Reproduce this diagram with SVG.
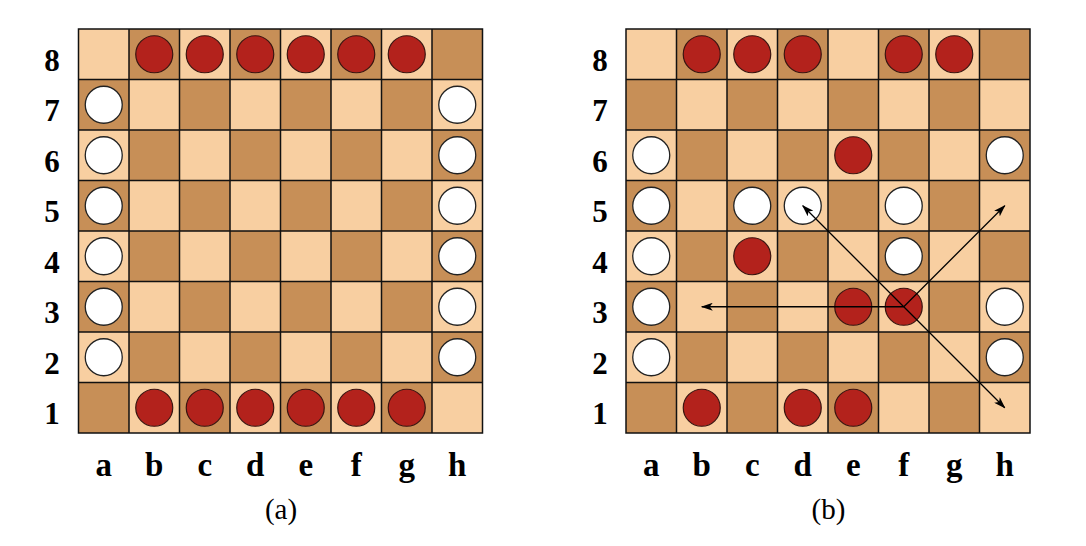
<svg xmlns="http://www.w3.org/2000/svg" xmlns:xlink="http://www.w3.org/1999/xlink" width="1086" height="546" viewBox="0 0 1086 546">
<style>
.lt{fill:#f8cfa1}
.dk{fill:#c78f57}
.grid{fill:none;stroke:#111;stroke-width:1.5}
.r{fill:#b3221c;stroke:#3a1410;stroke-width:1.2}
.w{fill:#fff;stroke:#222;stroke-width:1.3}
.rank{font-family:"Liberation Serif",serif;font-weight:bold;font-size:31px;text-anchor:middle;fill:#000}
.file{font-family:"Liberation Serif",serif;font-weight:bold;font-size:33px;text-anchor:middle;fill:#000}
.cap{font-family:"Liberation Serif",serif;font-size:29px;text-anchor:middle;fill:#000}
.arr{fill:none;stroke:#000;stroke-width:1.3;marker-end:url(#ah)}
</style>
<defs>
<marker id="ah" viewBox="0 0 12 8" refX="11" refY="4" markerWidth="12" markerHeight="8" markerUnits="userSpaceOnUse" orient="auto">
<path d="M0,0 L12,4 L0,8 L3,4 Z" fill="#000"/>
</marker>
<g id="board">
<rect class="lt" x="0" y="0" width="404" height="404"/>
<g class="dk">
<rect x="50.5" y="0" width="50.5" height="50.5"/><rect x="151.5" y="0" width="50.5" height="50.5"/><rect x="252.5" y="0" width="50.5" height="50.5"/><rect x="353.5" y="0" width="50.5" height="50.5"/>
<rect x="0" y="50.5" width="50.5" height="50.5"/><rect x="101" y="50.5" width="50.5" height="50.5"/><rect x="202" y="50.5" width="50.5" height="50.5"/><rect x="303" y="50.5" width="50.5" height="50.5"/>
<rect x="50.5" y="101" width="50.5" height="50.5"/><rect x="151.5" y="101" width="50.5" height="50.5"/><rect x="252.5" y="101" width="50.5" height="50.5"/><rect x="353.5" y="101" width="50.5" height="50.5"/>
<rect x="0" y="151.5" width="50.5" height="50.5"/><rect x="101" y="151.5" width="50.5" height="50.5"/><rect x="202" y="151.5" width="50.5" height="50.5"/><rect x="303" y="151.5" width="50.5" height="50.5"/>
<rect x="50.5" y="202" width="50.5" height="50.5"/><rect x="151.5" y="202" width="50.5" height="50.5"/><rect x="252.5" y="202" width="50.5" height="50.5"/><rect x="353.5" y="202" width="50.5" height="50.5"/>
<rect x="0" y="252.5" width="50.5" height="50.5"/><rect x="101" y="252.5" width="50.5" height="50.5"/><rect x="202" y="252.5" width="50.5" height="50.5"/><rect x="303" y="252.5" width="50.5" height="50.5"/>
<rect x="50.5" y="303" width="50.5" height="50.5"/><rect x="151.5" y="303" width="50.5" height="50.5"/><rect x="252.5" y="303" width="50.5" height="50.5"/><rect x="353.5" y="303" width="50.5" height="50.5"/>
<rect x="0" y="353.5" width="50.5" height="50.5"/><rect x="101" y="353.5" width="50.5" height="50.5"/><rect x="202" y="353.5" width="50.5" height="50.5"/><rect x="303" y="353.5" width="50.5" height="50.5"/>
</g>
<path class="grid" d="M0,0H404V404H0Z M50.5,0V404 M101,0V404 M151.5,0V404 M202,0V404 M252.5,0V404 M303,0V404 M353.5,0V404 M0,50.5H404 M0,101H404 M0,151.5H404 M0,202H404 M0,252.5H404 M0,303H404 M0,353.5H404"/>
</g>
</defs>

<g id="board-a">
<use xlink:href="#board" href="#board" x="78.5" y="29"/>
<g id="pieces-a">
<circle class="r" cx="154.25" cy="54.25" r="18.5"/><circle class="r" cx="204.75" cy="54.25" r="18.5"/><circle class="r" cx="255.25" cy="54.25" r="18.5"/><circle class="r" cx="305.75" cy="54.25" r="18.5"/><circle class="r" cx="356.25" cy="54.25" r="18.5"/><circle class="r" cx="406.75" cy="54.25" r="18.5"/>
<circle class="r" cx="154.25" cy="407.75" r="18.5"/><circle class="r" cx="204.75" cy="407.75" r="18.5"/><circle class="r" cx="255.25" cy="407.75" r="18.5"/><circle class="r" cx="305.75" cy="407.75" r="18.5"/><circle class="r" cx="356.25" cy="407.75" r="18.5"/><circle class="r" cx="406.75" cy="407.75" r="18.5"/>
<circle class="w" cx="103.75" cy="104.75" r="18.5"/><circle class="w" cx="103.75" cy="155.25" r="18.5"/><circle class="w" cx="103.75" cy="205.75" r="18.5"/><circle class="w" cx="103.75" cy="256.25" r="18.5"/><circle class="w" cx="103.75" cy="306.75" r="18.5"/><circle class="w" cx="103.75" cy="357.25" r="18.5"/>
<circle class="w" cx="457.25" cy="104.75" r="18.5"/><circle class="w" cx="457.25" cy="155.25" r="18.5"/><circle class="w" cx="457.25" cy="205.75" r="18.5"/><circle class="w" cx="457.25" cy="256.25" r="18.5"/><circle class="w" cx="457.25" cy="306.75" r="18.5"/><circle class="w" cx="457.25" cy="357.25" r="18.5"/>
</g>
<g id="labels-a">
<text class="rank" x="52" y="70.5">8</text><text class="rank" x="52" y="121">7</text><text class="rank" x="52" y="171.5">6</text><text class="rank" x="52" y="222">5</text><text class="rank" x="52" y="272.5">4</text><text class="rank" x="52" y="323">3</text><text class="rank" x="52" y="373.5">2</text><text class="rank" x="52" y="424">1</text>
<text class="file" x="103.75" y="475.5">a</text><text class="file" x="154.25" y="475.5">b</text><text class="file" x="204.75" y="475.5">c</text><text class="file" x="255.25" y="475.5">d</text><text class="file" x="305.75" y="475.5">e</text><text class="file" x="356.25" y="475.5">f</text><text class="file" x="406.75" y="475.5">g</text><text class="file" x="457.25" y="475.5">h</text>
<text class="cap" x="281" y="518.5">(a)</text>
</g>
</g>

<g id="board-b">
<use xlink:href="#board" href="#board" x="626" y="29"/>
<g id="pieces-b">
<circle class="r" cx="701.75" cy="54.25" r="18.5"/><circle class="r" cx="752.25" cy="54.25" r="18.5"/><circle class="r" cx="802.75" cy="54.25" r="18.5"/><circle class="r" cx="903.75" cy="54.25" r="18.5"/><circle class="r" cx="954.25" cy="54.25" r="18.5"/>
<circle class="w" cx="651.25" cy="155.25" r="18.5"/><circle class="r" cx="853.25" cy="155.25" r="18.5"/><circle class="w" cx="1004.75" cy="155.25" r="18.5"/>
<circle class="w" cx="651.25" cy="205.75" r="18.5"/><circle class="w" cx="752.25" cy="205.75" r="18.5"/><circle class="w" cx="802.75" cy="205.75" r="18.5"/><circle class="w" cx="903.75" cy="205.75" r="18.5"/>
<circle class="w" cx="651.25" cy="256.25" r="18.5"/><circle class="r" cx="752.25" cy="256.25" r="18.5"/><circle class="w" cx="903.75" cy="256.25" r="18.5"/>
<circle class="w" cx="651.25" cy="306.75" r="18.5"/><circle class="r" cx="853.25" cy="306.75" r="18.5"/><circle class="r" cx="903.75" cy="306.75" r="18.5"/><circle class="w" cx="1004.75" cy="306.75" r="18.5"/>
<circle class="w" cx="651.25" cy="357.25" r="18.5"/><circle class="w" cx="1004.75" cy="357.25" r="18.5"/>
<circle class="r" cx="701.75" cy="407.75" r="18.5"/><circle class="r" cx="802.75" cy="407.75" r="18.5"/><circle class="r" cx="853.25" cy="407.75" r="18.5"/>
</g>
<g id="connectors">
<line class="arr" x1="903.75" y1="306.75" x2="802.75" y2="205.75"/>
<line class="arr" x1="903.75" y1="306.75" x2="1004.75" y2="205.75"/>
<line class="arr" x1="903.75" y1="306.75" x2="1004.75" y2="407.75"/>
<line class="arr" x1="903.75" y1="306.75" x2="701.75" y2="306.75"/>
</g>
<g id="labels-b">
<text class="rank" x="600" y="70.5">8</text><text class="rank" x="600" y="121">7</text><text class="rank" x="600" y="171.5">6</text><text class="rank" x="600" y="222">5</text><text class="rank" x="600" y="272.5">4</text><text class="rank" x="600" y="323">3</text><text class="rank" x="600" y="373.5">2</text><text class="rank" x="600" y="424">1</text>
<text class="file" x="651.25" y="475.5">a</text><text class="file" x="701.75" y="475.5">b</text><text class="file" x="752.25" y="475.5">c</text><text class="file" x="802.75" y="475.5">d</text><text class="file" x="853.25" y="475.5">e</text><text class="file" x="903.75" y="475.5">f</text><text class="file" x="954.25" y="475.5">g</text><text class="file" x="1004.75" y="475.5">h</text>
<text class="cap" x="828.5" y="518.5">(b)</text>
</g>
</g>
</svg>
